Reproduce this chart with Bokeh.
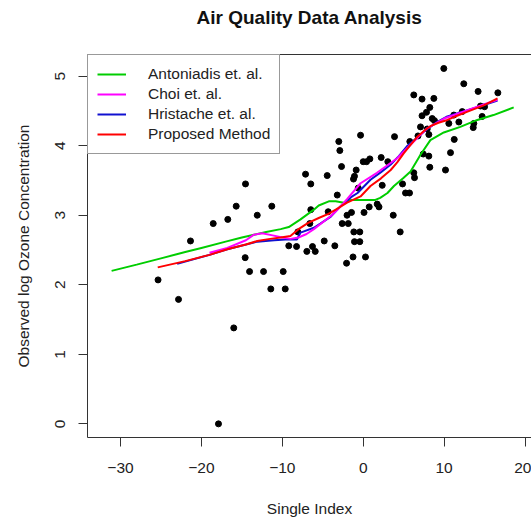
from bokeh.plotting import figure
from bokeh.models import Range1d, FixedTicker, LinearAxis, Legend, LegendItem
from bokeh.embed import file_html
from bokeh.resources import INLINE

# ---------------- data ----------------
index_x = [-25.36, -22.83, -17.89, -16.00, -21.35, -18.54, -16.74, -15.70, -14.55, -13.10,
           -11.30, -14.59, -14.05, -12.32, -9.89, -11.42, -9.64, -9.20, -8.24, -6.27,
           -6.97, -5.93, -4.82, -3.51, -8.08, -6.60, -6.48, -6.48, -7.13, -4.45,
           -4.33, -3.21, -3.02, -2.89, -2.68, -0.87, -1.08, -1.20, -0.33, -0.62,
           -2.00, -1.45, -2.60, -1.85, -1.16, -0.42, -1.08, -0.42, -1.26, 0.28,
           -2.06, 0.10, 0.74, 1.73, 1.95, 2.35, 3.71, 4.57, 0.00, 0.41,
           0.82, 2.22, 3.04, 3.87, 5.76, 6.77, 4.86, 6.25, 6.34, 5.23,
           5.72, 6.25, 7.27, 8.73, 9.96, 12.43, 14.20, 16.64, 8.23, 7.82,
           7.27, 8.53, 8.81, 11.20, 12.24, 14.50, 15.00, 14.70, 11.82, 10.58,
           13.67, 13.60, 7.08, 7.91, 8.11, 11.25, 10.79, 7.42, 8.11, 8.23, 10.17]
ozone_y = [2.07, 1.79, 0.00, 1.38, 2.63, 2.88, 2.94, 3.13, 3.45, 3.00,
           3.13, 2.39, 2.19, 2.19, 2.19, 1.94, 1.94, 2.56, 2.55, 2.55,
           2.48, 2.48, 2.63, 2.56, 2.76, 2.88, 3.08, 3.45, 3.59, 3.57,
           3.05, 3.29, 4.06, 3.93, 3.70, 3.65, 3.56, 3.52, 4.15, 3.39,
           3.00, 3.04, 2.88, 2.88, 2.76, 2.76, 2.62, 2.62, 2.40, 2.40,
           2.31, 3.04, 3.12, 3.16, 3.12, 3.43, 3.00, 2.76, 3.77, 3.77,
           3.81, 3.83, 3.77, 4.13, 4.06, 4.14, 3.45, 3.61, 3.54, 3.32,
           3.32, 4.73, 4.67, 4.68, 5.11, 4.89, 4.78, 4.76, 4.55, 4.48,
           4.43, 4.39, 4.36, 4.44, 4.49, 4.57, 4.56, 4.42, 4.34, 4.32,
           4.32, 4.26, 4.27, 4.24, 4.16, 4.09, 3.90, 3.88, 3.85, 3.69, 3.65]

antoniadis_x = [-31.1, -28, -25, -22, -20, -17, -15, -13.5, -12, -10.2, -9.2, -7.75, -6.1, -5.5,
                -4.25, -3.4, -2.4, -1.5, 0, 1.5, 2.1, 3.0, 3.8, 5.0, 5.85, 7.08, 8.3, 9.96,
                12.0, 14.1, 16.1, 18.6]
antoniadis_y = [2.20, 2.29, 2.38, 2.47, 2.53, 2.62, 2.68, 2.72, 2.76, 2.80, 2.83, 2.94, 3.08, 3.14,
                3.20, 3.20, 3.18, 3.22, 3.22, 3.22, 3.25, 3.32, 3.42, 3.54, 3.63, 3.87, 4.08, 4.19,
                4.27, 4.37, 4.44, 4.55]

choi_x = [-19, -16.8, -14.5, -13.5, -12.5, -11.2, -10, -9.0, -8.0, -7, -6.1, -5, -4.0, -3,
          -2.0, -0.33, 1.7, 4.2, 6.25, 7.9, 10, 12.9, 14.8, 16.6]
choi_y = [2.46, 2.53, 2.64, 2.72, 2.74, 2.71, 2.68, 2.66, 2.68, 2.73, 2.80, 2.90, 2.99, 3.10,
          3.23, 3.46, 3.61, 3.82, 4.06, 4.25, 4.39, 4.51, 4.59, 4.66]

hristache_x = [-23, -19, -16.8, -13.1, -11, -9.6, -8.2, -7.75, -6.1, -5.3, -4.0, -2.8, -1.5,
               -0.7, 0.9, 2.2, 3.4, 4.4, 5.4, 6.5, 7.5, 9.0, 10.4, 12.9, 14.8, 16.6]
hristache_y = [2.30, 2.43, 2.51, 2.62, 2.64, 2.65, 2.65, 2.75, 2.82, 2.88, 2.98, 3.13, 3.26,
               3.32, 3.51, 3.62, 3.73, 3.85, 3.99, 4.10, 4.20, 4.33, 4.42, 4.51, 4.58, 4.65]

proposed_x = [-25.4, -22, -19, -16.8, -14.5, -13.1, -11.5, -10.2, -9.0, -8.0, -6.8, -5.5, -4.3,
              -3.4, -2.0, -0.33, 0.9, 2.2, 3.4, 4.2, 5.0, 5.9, 6.7, 7.5, 8.3, 9.3, 10.4, 11.6,
              12.9, 14.9, 16.6]
proposed_y = [2.25, 2.34, 2.43, 2.51, 2.58, 2.63, 2.66, 2.68, 2.70, 2.80, 2.89, 2.96, 3.02,
              3.08, 3.18, 3.27, 3.42, 3.53, 3.65, 3.76, 3.89, 4.02, 4.13, 4.21, 4.28, 4.33, 4.37,
              4.43, 4.49, 4.58, 4.68]

x_ticks = [-30, -20, -10, 0, 10, 20]
y_ticks = [0, 1, 2, 3, 4, 5]
title_text = "Air Quality Data Analysis"

FONT = "Liberation Sans"
FS = "15.5px"
INK = "#222222"
BOX = "#333333"

p = figure(width=531, height=519, output_backend="svg", toolbar_location=None,
           x_range=Range1d(-34.08, 20.80), y_range=Range1d(-0.196, 5.311),
           min_border_left=87, min_border_right=0, min_border_top=54, min_border_bottom=80,
           x_axis_label="Single Index", y_axis_label="Observed log Ozone Concentration")
p.outline_line_color = None
p.grid.visible = False
p.background_fill_color = "white"
p.border_fill_color = "white"

for ax in (p.xaxis[0], p.yaxis[0]):
    ax.axis_line_color = BOX
    ax.axis_line_width = 1
    ax.major_tick_line_color = BOX
    ax.major_tick_out = 9
    ax.major_tick_in = 0
    ax.minor_tick_line_color = None
    ax.major_label_text_font = FONT
    ax.major_label_text_font_size = FS
    ax.major_label_text_color = INK
    ax.axis_label_text_font = FONT
    ax.axis_label_text_font_size = FS
    ax.axis_label_text_font_style = "normal"
    ax.axis_label_text_color = INK

p.xaxis[0].ticker = FixedTicker(ticks=x_ticks)
p.yaxis[0].ticker = FixedTicker(ticks=y_ticks)
p.xaxis[0].major_label_standoff = 16
p.xaxis[0].axis_label_standoff = 24
p.yaxis[0].major_label_orientation = "vertical"
p.yaxis[0].major_label_standoff = 13
p.yaxis[0].axis_label_standoff = 21

# top edge of the box, carrying the main title as its label
top = LinearAxis(ticker=FixedTicker(ticks=[]), axis_line_color=BOX, major_tick_out=0,
                 major_tick_in=0, minor_tick_out=0, minor_tick_in=0,
                 major_label_text_font_size="0px",
                 axis_label=title_text, axis_label_standoff=27,
                 axis_label_text_font=FONT, axis_label_text_font_size="19px",
                 axis_label_text_font_style="bold", axis_label_text_color="#111111")
p.add_layout(top, "above")

p.scatter(index_x, ozone_y, size=6, color="black")

rg = p.line(antoniadis_x, antoniadis_y, line_color="#00CD00", line_width=2)
rb = p.line(hristache_x, hristache_y, line_color="#1010D0", line_width=2)
rm = p.line(choi_x, choi_y, line_color="#FF00FF", line_width=2)
rr = p.line(proposed_x, proposed_y, line_color="#FF0000", line_width=2)

legend = Legend(items=[LegendItem(label="Antoniadis et. al.", renderers=[rg]),
                       LegendItem(label="Choi et. al.", renderers=[rm]),
                       LegendItem(label="Hristache et. al.", renderers=[rb]),
                       LegendItem(label="Proposed Method", renderers=[rr])],
                location="top_left", margin=0, padding=9, spacing=0,
                label_height=20, glyph_height=20, glyph_width=29, label_standoff=22,
                border_line_color=BOX, border_line_width=1,
                background_fill_color="white", background_fill_alpha=1,
                label_text_font=FONT, label_text_font_size=FS, label_text_color=INK)
p.add_layout(legend)

open("out.html", "w").write(file_html(p, INLINE))
